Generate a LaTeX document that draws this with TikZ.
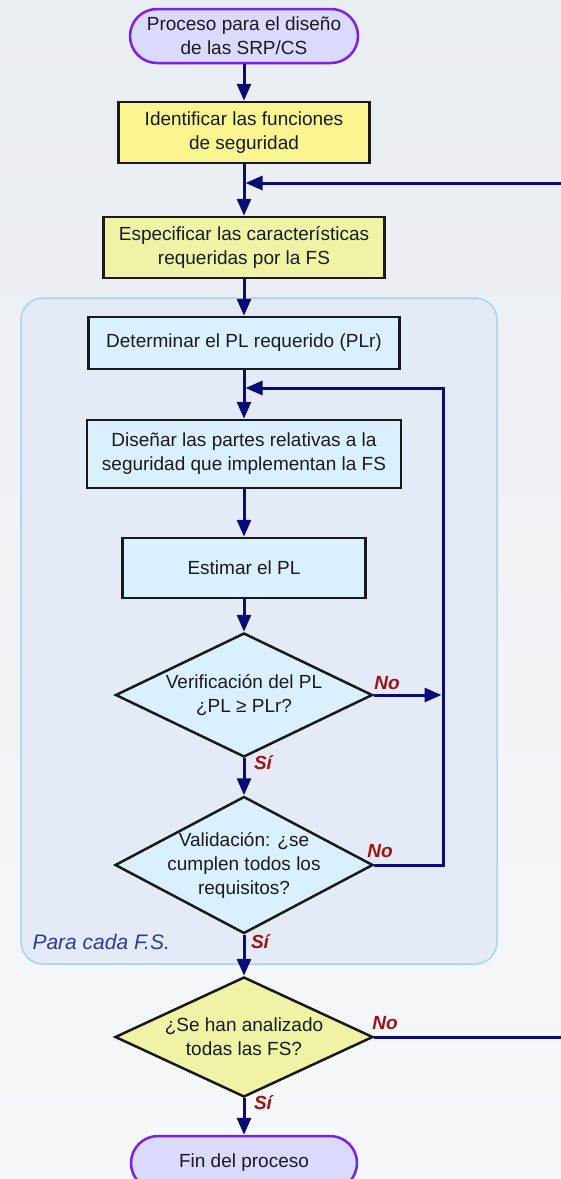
\documentclass[tikz,border=0pt]{standalone}
\usepackage{fontspec}
\setmainfont{Liberation Sans}
\usetikzlibrary{shapes.geometric,arrows.meta}

\definecolor{bgtop}{HTML}{E9EEF3}
\definecolor{bgbot}{HTML}{F6F8FA}
\definecolor{termfill}{HTML}{DADAFE}
\definecolor{termline}{HTML}{7A1FF0}
\definecolor{idfill}{HTML}{FAF590}
\definecolor{specfill}{HTML}{EEF3A6}
\definecolor{stepfill}{HTML}{DAF0FF}
\definecolor{grpfill}{HTML}{E5EBF6}
\definecolor{grpline}{HTML}{A6D2FA}
\definecolor{flowcol}{HTML}{0B0B78}
\definecolor{anscol}{HTML}{A11212}
\definecolor{grptext}{HTML}{2A3A9A}
\definecolor{txt}{HTML}{1A1A1A}

\newcommand{\mainfs}{\fontsize{19}{24}\selectfont}

\begin{document}
\begin{tikzpicture}[
  x=1pt, y=-1pt,
  term/.style={draw=termline, fill=termfill, line width=2.5pt,
    rounded corners=27pt, minimum width=228pt, minimum height=54pt,
    align=center, inner sep=0pt, font=\mainfs, text=txt},
  stepbox/.style={draw=black!90, line width=2.5pt, align=center,
    inner sep=0pt, font=\mainfs, text=txt},
  decision/.style={diamond, draw=black!90, line width=2.5pt, inner sep=0pt},
  dtext/.style={align=center, font=\mainfs, text=txt},
  flow/.style={draw=flowcol, line width=3pt, -{Triangle[length=17pt,width=14pt]}},
  answer/.style={font=\fontsize{19}{20}\selectfont\bfseries\itshape, text=anscol},
  group/.style={draw=grpline, fill=grpfill, line width=1.5pt, rounded corners=22pt}
]
\useasboundingbox (0,0) rectangle (561,1179);
\clip (0,0) rectangle (561,1179);

% background
\shade[top color=bgtop, bottom color=bgbot] (0,0) rectangle (561,1179);

% group of steps repeated for each safety function
\node[group, minimum width=476pt, minimum height=666pt] (grp) at (259,631) {};
\node[anchor=west, font=\fontsize{21}{24}\selectfont\itshape, text=grptext] (grplbl) at (29,942) {Para cada F.S.};

% nodes, all centred on one column
\node[term] (start) at (244,36) {Proceso para el diseño\\de las SRP/CS};
\node[stepbox, fill=idfill, minimum width=251pt, minimum height=61pt] (ident) at (244,132.5)
  {Identificar las funciones\\de seguridad};
\node[stepbox, fill=specfill, minimum width=281pt, minimum height=61pt] (spec) at (244,247.5)
  {Especificar las características\\requeridas por la FS};
\node[stepbox, fill=stepfill, minimum width=311pt, minimum height=52pt] (plr) at (244,343)
  {Determinar el PL requerido (PLr)};
\node[stepbox, fill=stepfill, minimum width=314pt, minimum height=68pt] (design) at (244,454)
  {Diseñar las partes relativas a la\\seguridad que implementan la FS};
\node[stepbox, fill=stepfill, minimum width=243pt, minimum height=60pt] (est) at (244,568)
  {Estimar el PL};
\node[decision, fill=stepfill, minimum width=257pt, minimum height=124pt,
  label={[dtext]center:Verificación del PL\\¿PL ≥ PLr?}] (verif) at (244,695) {};
\node[decision, fill=stepfill, minimum width=258pt, minimum height=137pt,
  label={[dtext]center:Validación: ¿se\\cumplen todos los\\requisitos?}] (valid) at (244,865) {};
\node[decision, fill=specfill, minimum width=258pt, minimum height=120pt,
  label={[dtext]center:¿Se han analizado\\todas las FS?}] (all) at (244,1037) {};
\node[term, minimum width=226pt] (fin) at (244,1163) {Fin del proceso};

% join points and loop corners
\coordinate (m1) at (245.5,183);
\coordinate (m2) at (245.5,388);
\coordinate (loopx) at (443,695);
\coordinate (outx) at (580,1037);

% answers
\node[answer] (no1) at (387,683) {No};
\node[answer] (si1) at (263,763) {Sí};
\node[answer] (no2) at (380,851) {No};
\node[answer] (si2) at (260,942) {Sí};
\node[answer] (no3) at (385,1023) {No};
\node[answer] (si3) at (263,1103) {Sí};

% main flow
\draw[flow] (start.south) -- (ident.north);
\draw[flow] (ident.south) -- (spec.north);
\draw[flow] (spec.south) -- (plr.north);
\draw[flow] (plr.south) -- (design.north);
\draw[flow] (design.south) -- (est.north);
\draw[flow] (est.south) -- (verif.north);
\draw[flow] (verif.south) -- (valid.north);
\draw[flow] (valid.south) -- (all.north);
\draw[flow] (all.south) -- (fin.north);

% inner loop back to the design step
\draw[flow, shorten >=1.5pt] (verif.east) -- (loopx);
\draw[flow] (valid.east) -| (loopx) |- (m2);

% outer loop back to the specification step
\draw[flow] (all.east) -- (outx) |- (m1);
\end{tikzpicture}
\end{document}
